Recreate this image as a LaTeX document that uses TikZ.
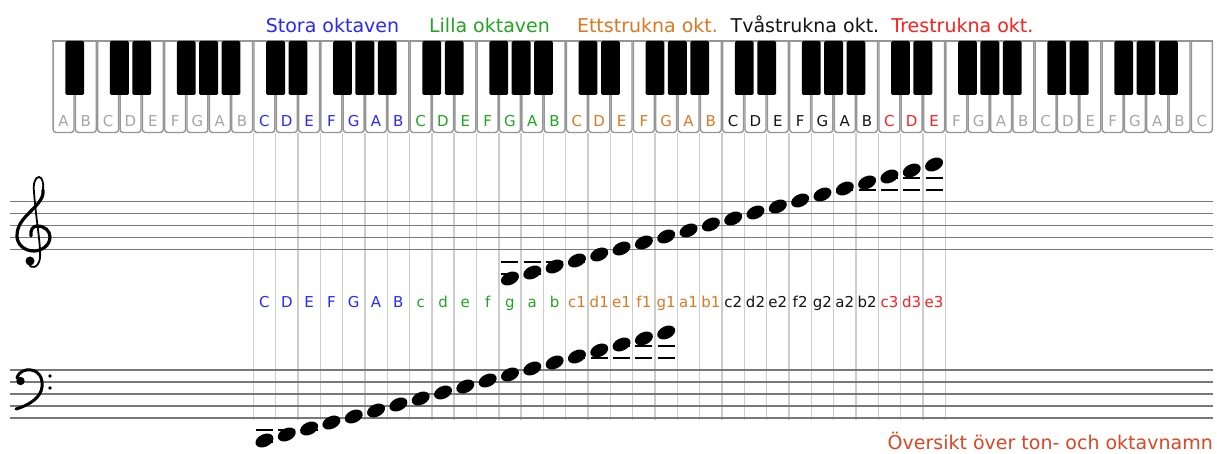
\documentclass[tikz,border=0pt]{standalone}
\usepackage{fontspec}
\setmainfont{DejaVu Sans}
\usetikzlibrary{shapes.geometric}
\definecolor{oc0}{RGB}{165,165,165}
\definecolor{oc1}{RGB}{40,40,255}
\definecolor{oc2}{RGB}{34,165,34}
\definecolor{oc3}{RGB}{221,120,34}
\definecolor{oc4}{RGB}{20,20,20}
\definecolor{oc5}{RGB}{255,30,30}
\definecolor{capc}{RGB}{221,70,34}
\definecolor{vlinec}{RGB}{205,205,205}
\definecolor{staffc}{RGB}{120,120,120}
\definecolor{keyc}{RGB}{150,150,150}
\newcommand\colx[1]{253.3+(#1+0.5)*22.32}
\tikzset{
  whitekey/.style={draw=keyc, line width=1.4, fill=white},
  blackkey/.style={fill=black, rounded corners=1.5},
  keylab/.style={anchor=base, inner sep=0, font=\fontsize{15}{17}\selectfont},
  title/.style={anchor=base, inner sep=0, font=\fontsize{19}{22}\selectfont},
  lab/.style={anchor=base, inner sep=0, font=\fontsize{15}{17}\selectfont},
  vline/.style={draw=vlinec, line width=1.4},
  staff/.style={draw=staffc, line width=1.6},
  ledger/.style={draw=black, line width=1.3},
  note/.style={ellipse, fill=black, minimum width=19, minimum height=12.5, inner sep=0, rotate=25},
  clefthick/.style={line width=3.2, line cap=round},
  clefthin/.style={line width=1.8, line cap=round}
}
\begin{document}
\begin{tikzpicture}[x=1pt,y=-1pt]
\useasboundingbox (0,0) rectangle (1217,454);
\fill[white] (0,0) rectangle (1217,454);
% keyboard white keys
\foreach \k in {0,...,51}{
  \pgfmathsetmacro\xl{52.4+\k*22.32}
  \pgfmathsetmacro\xr{52.4+(\k+1)*22.32}
  \pgfmathtruncatemacro\m{mod(\k,7)}
  \pgfmathtruncatemacro\o{\k<9 ? 0 : (\k<16 ? 1 : (\k<23 ? 2 : (\k<30 ? 3 : (\k<37 ? 4 : (\k<40 ? 5 : 0)))))}
  \draw[whitekey] (\xl+0.7,41) [rounded corners=3] -- (\xl+0.7,132.5) -- (\xr-0.7,132.5) [sharp corners] -- (\xr-0.7,41);
  \node[keylab, text=oc\o] (kl\k) at ({(\xl+\xr)/2},126.5) {\ifcase\m A\or B\or C\or D\or E\or F\or G\fi};
}
\draw[draw=keyc, line width=1.4] (52.4,41) -- (1213,41);
% black keys
\foreach \k in {0,...,50}{
  \pgfmathtruncatemacro\m{mod(\k,7)}
  \pgfmathsetmacro\xb{52.4+(\k+1)*22.32}
  \ifnum\m=1\relax\else\ifnum\m=4\relax\else
    \fill[blackkey] (\xb-9.4,41) rectangle (\xb+9.4,95);
  \fi\fi
}
% titles
\node[title, text=oc1] (t1) at (332.5,32.5) {Stora oktaven};
\node[title, text=oc2] (t2) at (489.5,32.5) {Lilla oktaven};
\node[title, text=oc3] (t3) at (647.5,32.5) {Ettstrukna okt.};
\node[title, text=oc4] (t4) at (805,32.5) {Tvåstrukna okt.};
\node[title, text=oc5] (t5) at (962.4,32.5) {Trestrukna okt.};
% vertical guide lines
\foreach \k in {0,...,31}{
  \draw[vline] ({253.3+\k*22.32},133) -- ({253.3+\k*22.32},420);
}
% staves
\foreach \y in {201.5,213.5,225.5,237.5,249.5}{ \draw[staff] (10,\y) -- (1213,\y); }
\foreach \y in {370,382,394,406,418}{ \draw[staff] (10,\y) -- (1213,\y); }
% labels
\foreach \i/\t/\o in {0/C/1,1/D/1,2/E/1,3/F/1,4/G/1,5/A/1,6/B/1,
  7/c/2,8/d/2,9/e/2,10/f/2,11/g/2,12/a/2,13/b/2,
  14/c1/3,15/d1/3,16/e1/3,17/f1/3,18/g1/3,19/a1/3,20/b1/3,
  21/c2/4,22/d2/4,23/e2/4,24/f2/4,25/g2/4,26/a2/4,27/b2/4,
  28/c3/5,29/d3/5,30/e3/5}{
  \node[lab, text=oc\o] (n\i) at ({\colx{\i}},307) {\t};
}
% ledger lines treble
\foreach \i in {11,...,14}{ \draw[ledger] ({\colx{\i}-8.5},262) -- ({\colx{\i}+8.5},262); }
\foreach \i in {11,12}{ \draw[ledger] ({\colx{\i}-8.5},274) -- ({\colx{\i}+8.5},274); }
\foreach \i in {26,...,30}{ \draw[ledger] ({\colx{\i}-8.5},190) -- ({\colx{\i}+8.5},190); }
\foreach \i in {28,...,30}{ \draw[ledger] ({\colx{\i}-8.5},178) -- ({\colx{\i}+8.5},178); }
% ledger lines bass
\foreach \i in {0,1,2}{ \draw[ledger] ({\colx{\i}-8.5},430) -- ({\colx{\i}+8.5},430); }
\draw[ledger] ({\colx{0}-8.5},442) -- ({\colx{0}+8.5},442);
\foreach \i in {14,...,18}{ \draw[ledger] ({\colx{\i}-8.5},358) -- ({\colx{\i}+8.5},358); }
\foreach \i in {16,17,18}{ \draw[ledger] ({\colx{\i}-8.5},346) -- ({\colx{\i}+8.5},346); }
% notes
\foreach \i in {11,...,30}{ \node[note] (tn\i) at ({\colx{\i}},{250-6*(\i-16)-1.5}) {}; }
\foreach \i in {0,...,18}{ \node[note] (bn\i) at ({\colx{\i}},{418-6*(\i-4)-1.5}) {}; }
% treble clef
\draw[clefthick] (31,236) .. controls (30,230) and (33,226) .. (37,226)
  .. controls (45,226) and (50,231) .. (50,237)
  .. controls (50,245) and (42,251) .. (34,251)
  .. controls (24,251) and (17,244) .. (17,236)
  .. controls (17,226) and (22,220) .. (30,212)
  .. controls (38,204) and (44,198) .. (43,190);
\draw[clefthin] (43,190) .. controls (44,183) and (42,177) .. (39,177)
  .. controls (35,177) and (33,184) .. (34,192)
  .. controls (36,220) and (41,245) .. (40,258)
  .. controls (39,268) and (30,270) .. (29,263);
\fill (30,261) circle (4.5);
% bass clef
\fill (20.5,381) circle (4.2);
\draw[line width=3, line cap=round] (17,378) .. controls (19,371) and (26,369) .. (31,370)
  .. controls (39,371) and (43,378) .. (42,387)
  .. controls (41,397) and (30,405) .. (16,409);
\fill (50,376) circle (1.9);
\fill (50,388) circle (1.9);
% caption
\node[title, anchor=base east, text=capc] (cap) at (1213,449.5) {Översikt över ton- och oktavnamn};
\end{tikzpicture}
\end{document}
